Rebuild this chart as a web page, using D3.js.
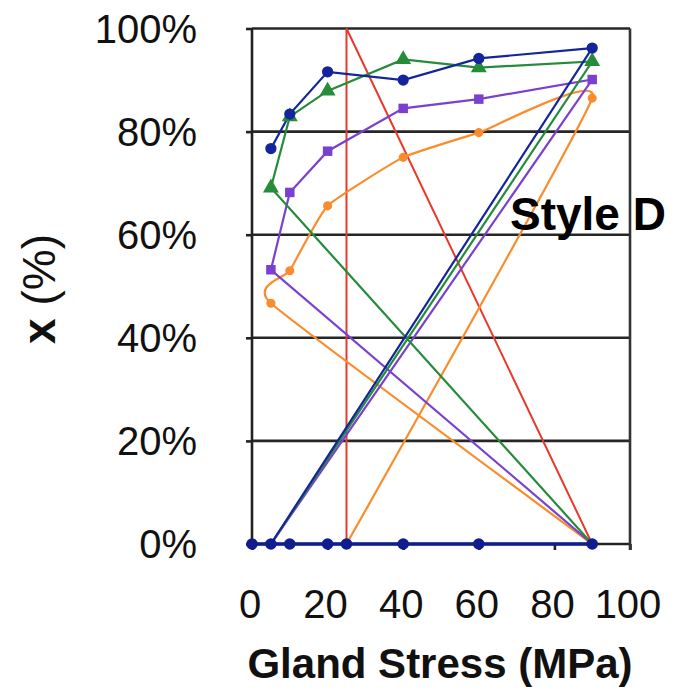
<!DOCTYPE html>
<html><head><meta charset="utf-8">
<script src="https://cdn.jsdelivr.net/npm/d3@7"></script>
<style>
html,body{margin:0;padding:0;background:#fff;}
svg{display:block;font-family:"Liberation Sans",Arial,sans-serif;}
</style></head>
<body><svg id="chart" width="673" height="690"></svg>
<script>
// ---- data ----
const xTicks = [0, 20, 40, 60, 80, 100];
const yTicks = [0, 20, 40, 60, 80, 100];
const yTickLabels = ["0%", "20%", "40%", "60%", "80%", "100%"];
const stressX = [5, 10, 20, 40, 60, 90];
const blueY = [76.7, 83.4, 91.6, 90.0, 94.2, 96.2];
const greenY = [69.1, 82.9, 87.9, 94.0, 92.4, 93.6];
const purpleY = [53.2, 68.2, 76.2, 84.5, 86.3, 90.1];
const orangeY = [46.7, 53.0, 65.6, 75.0, 79.8, 86.5];
// start (x at 0%) before the rising branch, end (x at 0%) after it
const startX = [null, 90, 90, 90];
const endX = [5, 5, 5, 25];
const baseX = [0, 5, 10, 20, 25, 40, 60, 90];
const baseY = [0, 0, 0, 0, 0, 0, 0, 0];
const redX = [25, 25, 90];
const redY = [0, 100, 0];
const seriesNames = ["blue", "green", "purple", "orange"];
const seriesColors = ["#14259c", "#258c3a", "#7a40cf", "#fb8c2c"];
const seriesShapes = ["circle", "triangle", "square", "circle"];

// ---- layout ----
const svg = d3.select("#chart");
const x = d3.scaleLinear().domain([0, 100]).range([252, 630]);
const y = d3.scaleLinear().domain([0, 100]).range([544, 28.5]);

// gridlines
svg.append("g").selectAll("line").data(yTicks.filter(d => d > 0)).join("line")
  .attr("x1", x(0)).attr("x2", x(100)).attr("y1", d => y(d)).attr("y2", d => y(d))
  .attr("stroke", "#262626").attr("stroke-width", 2.6);

// axes
const xAxis = d3.axisBottom(x).tickValues(xTicks).tickSize(6).tickFormat("");
svg.append("g").attr("transform", `translate(0,${y(0)})`).call(xAxis)
  .call(g => g.selectAll("line,path").attr("stroke", "#222").attr("stroke-width", 2.6))
  .call(g => g.select(".domain").attr("d", `M${x(0)},0H${x(100)}`));
const yAxis = d3.axisLeft(y).tickValues(yTicks).tickSize(6).tickFormat("");
svg.append("g").attr("transform", `translate(${x(0)},0)`).call(yAxis)
  .call(g => g.selectAll("line,path").attr("stroke", "#222").attr("stroke-width", 2.6))
  .call(g => g.select(".domain").attr("d", `M0,${y(100)}V${y(0)}`));
// right border
svg.append("line").attr("x1", x(100)).attr("x2", x(100)).attr("y1", y(100)).attr("y2", y(0) + 6)
  .attr("stroke", "#333").attr("stroke-width", 2.6);

// tick labels
svg.append("g").selectAll("text").data(yTicks).join("text")
  .attr("x", 197).attr("y", d => y(d)).attr("dy", "0.36em")
  .attr("text-anchor", "end").attr("font-size", 40).attr("fill", "#111")
  .text((d, i) => yTickLabels[i]);
svg.append("g").selectAll("text").data(xTicks).join("text")
  .attr("x", d => x(d) - 2).attr("y", 618)
  .attr("text-anchor", "middle").attr("font-size", 40).attr("fill", "#111")
  .text(d => d);

// axis titles
svg.append("text").attr("x", 440).attr("y", 678).attr("text-anchor", "middle")
  .attr("font-size", 42).attr("font-weight", "bold").attr("fill", "#111")
  .text("Gland Stress (MPa)");
const yt = svg.append("text").attr("transform", "translate(55,289) rotate(-90)")
  .attr("text-anchor", "middle").attr("font-size", 46).attr("fill", "#111");
yt.append("tspan").attr("font-weight", "bold").text("x");
yt.append("tspan").text(" (%)");

// series lines
const lineLin = d3.line().x(d => x(d[0])).y(d => y(d[1]));
const lineSmooth = d3.line().x(d => x(d[0])).y(d => y(d[1])).curve(d3.curveCardinal.tension(0.6));

svg.append("path").attr("d", lineLin(redX.map((v, i) => [v, redY[i]])))
  .attr("fill", "none").attr("stroke", "#e8392b").attr("stroke-width", 2);

const tops = [blueY, greenY, purpleY, orangeY];
const order = [3, 2, 1, 0];
order.forEach(k => {
  const pts = [];
  if (startX[k] !== null) pts.push([startX[k], 0]);
  stressX.forEach((v, i) => pts.push([v, tops[k][i]]));
  pts.push([endX[k], 0]);
  const gen = seriesNames[k] === "orange" ? lineSmooth : lineLin;
  svg.append("path").attr("d", gen(pts)).attr("fill", "none")
    .attr("stroke", seriesColors[k]).attr("stroke-width", 2.2);
});
order.forEach(k => {
  const shape = seriesShapes[k];
  const sym = shape === "triangle" ? d3.symbolTriangle : shape === "square" ? d3.symbolSquare : d3.symbolCircle;
  const size = shape === "triangle" ? 110 : shape === "square" ? 90 : (seriesNames[k] === "orange" ? 65 : 100);
  svg.append("g").selectAll("path").data(stressX.map((v, i) => [v, tops[k][i]])).join("path")
    .attr("transform", d => `translate(${x(d[0])},${y(d[1])})`)
    .attr("d", d3.symbol(sym, size)).attr("fill", seriesColors[k]);
});

// baseline series
svg.append("path").attr("d", lineLin(baseX.map((v, i) => [v, baseY[i]])))
  .attr("fill", "none").attr("stroke", "#0f1d8e").attr("stroke-width", 3.5);
svg.append("g").selectAll("circle").data(baseX.map((v, i) => [v, baseY[i]])).join("circle")
  .attr("cx", d => x(d[0])).attr("cy", d => y(d[1])).attr("r", 5.8).attr("fill", "#0f1d8e");

// annotation
svg.append("text").attr("x", 510).attr("y", 230).attr("font-size", 46)
  .attr("font-weight", "bold").attr("fill", "#000").text("Style D");
</script></body></html>
